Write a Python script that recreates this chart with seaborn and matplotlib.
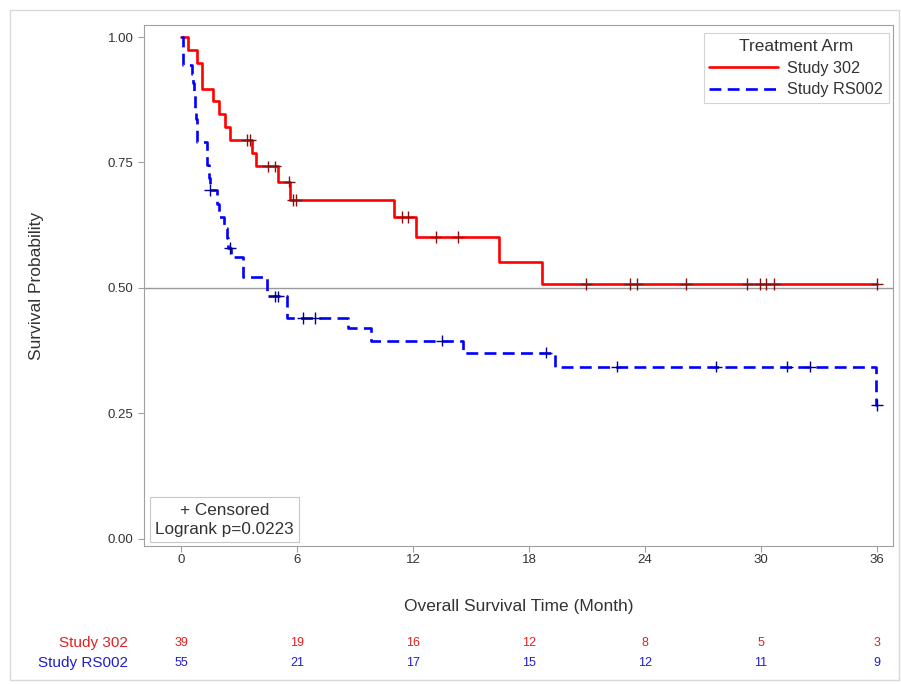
import numpy as np
import pandas as pd
import matplotlib
matplotlib.use("Agg")
import matplotlib.pyplot as plt
import matplotlib.transforms as mtransforms
from matplotlib.lines import Line2D
from matplotlib.patches import Rectangle
import seaborn as sns

# Kaplan-Meier step curves (time in months, survival probability after each step)
arm_names = ["Study 302", "Study RS002"]

time_302 = [0, 0.38, 0.80, 1.06, 1.67, 1.98, 2.28, 2.53, 3.65, 3.85, 5.03, 5.65,
            11.02, 12.13, 16.44, 18.65, 36.0]
surv_302 = [1.0, 0.974, 0.949, 0.897, 0.872, 0.846, 0.821, 0.795, 0.768, 0.742, 0.712, 0.675,
            0.641, 0.601, 0.552, 0.508, 0.508]
cens_302 = [3.40, 3.55, 4.50, 4.86, 5.60, 5.80, 5.95, 11.41, 11.76, 13.17, 14.34,
            20.95, 23.23, 23.57, 26.12, 29.30, 29.95, 30.24, 30.67, 36.0]

time_rs = [0, 0.10, 0.55, 0.60, 0.65, 0.70, 0.74, 0.78, 0.82, 1.32, 1.36, 1.44, 1.48,
           1.85, 1.95, 2.20, 2.35, 2.45, 2.60, 3.22, 4.43, 5.46, 8.64, 9.80, 14.60,
           19.35, 35.97, 36.0]
surv_rs = [1.0, 0.945, 0.927, 0.909, 0.891, 0.873, 0.855, 0.836, 0.790, 0.768, 0.745, 0.720, 0.695,
           0.668, 0.641, 0.620, 0.600, 0.580, 0.562, 0.522, 0.483, 0.440, 0.420, 0.395, 0.371,
           0.343, 0.267, 0.267]
cens_rs = [1.50, 2.52, 4.86, 5.03, 6.30, 6.93, 13.50, 18.88, 22.53, 27.67, 31.33, 32.54, 36.0]

# Number at risk table
risk_times = [0, 6, 12, 18, 24, 30, 36]
risk_302 = [39, 19, 16, 12, 8, 5, 3]
risk_rs = [55, 21, 17, 15, 12, 11, 9]

x_ticks = [0, 6, 12, 18, 24, 30, 36]
y_ticks = [0.0, 0.25, 0.50, 0.75, 1.00]
pvalue_text = "Logrank p=0.0223"

RED = "#ff0000"
BLUE = "#0000ff"
TXT = "#333333"
GRID = "#a0a0a0"

sns.set_theme(style="white")
plt.rcParams["font.family"] = ["Liberation Sans", "DejaVu Sans"]

curves = pd.concat([
    pd.DataFrame({"time": time_302, "surv": surv_302, "arm": arm_names[0]}),
    pd.DataFrame({"time": time_rs, "surv": surv_rs, "arm": arm_names[1]}),
], ignore_index=True)


def step_value(times, survs, t):
    idx = np.searchsorted(times, t, side="right") - 1
    return np.asarray(survs)[idx]


cens = pd.concat([
    pd.DataFrame({"time": cens_302, "surv": step_value(time_302, surv_302, cens_302),
                  "arm": arm_names[0]}),
    pd.DataFrame({"time": cens_rs, "surv": step_value(time_rs, surv_rs, cens_rs),
                  "arm": arm_names[1]}),
], ignore_index=True)

fig = plt.figure(figsize=(9.01, 6.84), dpi=100)
ax = fig.add_axes([144 / 901, 1 - 546 / 684, (893 - 144) / 901, (546 - 25) / 684])

dash_rs = (4.5, 2.4)
sns.lineplot(data=curves, x="time", y="surv", hue="arm", style="arm",
             palette={arm_names[0]: RED, arm_names[1]: BLUE},
             dashes={arm_names[0]: "", arm_names[1]: dash_rs},
             drawstyle="steps-post", estimator=None, sort=False,
             linewidth=1.9, legend=False, ax=ax, zorder=3)

sns.scatterplot(data=cens, x="time", y="surv", hue="arm",
                palette={arm_names[0]: "#8a1010", arm_names[1]: "#000090"},
                marker="+", s=70, linewidth=1.0, legend=False, ax=ax, zorder=4)

# reference line at median
ax.axhline(0.5, color="#9a9a9a", linewidth=1.0, zorder=1)

ax.set_xlim(-1.92, 36.83)
ax.set_ylim(-0.0145, 1.024)
ax.set_xticks(x_ticks)
ax.set_xticklabels([str(v) for v in x_ticks])
ax.set_yticks(y_ticks)
ax.set_yticklabels([f"{v:.2f}" for v in y_ticks])
ax.tick_params(axis="both", direction="out", length=4, width=0.8, color=GRID,
               labelsize=9.5, labelcolor=TXT, bottom=True, left=True)
ax.tick_params(axis="x", pad=1.5)
ax.tick_params(axis="y", pad=3.5)
for sp in ax.spines.values():
    sp.set_color(GRID)
    sp.set_linewidth(0.8)

ax.set_xlabel("Overall Survival Time (Month)", fontsize=12.5, color=TXT)
ax.set_ylabel("Survival Probability", fontsize=12.5, color=TXT)
ax.xaxis.set_label_coords(0.5, -0.1015)
ax.yaxis.set_label_coords(-0.133, 0.5)

handles = [Line2D([], [], color=RED, linewidth=1.9),
           Line2D([], [], color=BLUE, linewidth=1.9, dashes=dash_rs)]
leg = ax.legend(handles, arm_names, title="Treatment Arm", loc="upper right",
                bbox_to_anchor=(0.9947, 0.9846), fontsize=11.7, title_fontsize=12.5,
                frameon=True, fancybox=False, handlelength=4.2, handletextpad=0.6,
                borderpad=0.35, labelspacing=0.42, borderaxespad=0.0)
leg.get_frame().set_edgecolor("#c8c8c8")
leg.get_frame().set_linewidth(0.8)
for t in leg.get_texts():
    t.set_color(TXT)
leg.get_title().set_color(TXT)

ax.text(0.0147, 0.017, "+ Censored\n" + pvalue_text, transform=ax.transAxes,
        ha="left", va="bottom", fontsize=12.3, color=TXT, linespacing=1.38,
        multialignment="center",
        bbox=dict(boxstyle="square,pad=0.3", facecolor="white",
                  edgecolor="#c8c8c8", linewidth=0.8))

# number at risk rows below the axis
trans = mtransforms.blended_transform_factory(ax.transData, fig.transFigure)
rows = [(arm_names[0], risk_302, "#e02020", 1 - 643 / 684),
        (arm_names[1], risk_rs, "#1f1fcc", 1 - 663 / 684)]
for name, counts, col, yy in rows:
    fig.text(128 / 901, yy, name, ha="right", va="center", fontsize=11, color=col)
    for tm, n in zip(risk_times, counts):
        ax.text(tm, yy, str(n), transform=trans, ha="center", va="center",
                fontsize=9, color=col, clip_on=False)

# light frame around the figure
fig.patches.append(Rectangle((10 / 901, 4 / 684), 889 / 901, 670 / 684,
                             transform=fig.transFigure, fill=False,
                             edgecolor="#d8d8d8", linewidth=1.0))

fig.savefig("out.png", dpi=100)
